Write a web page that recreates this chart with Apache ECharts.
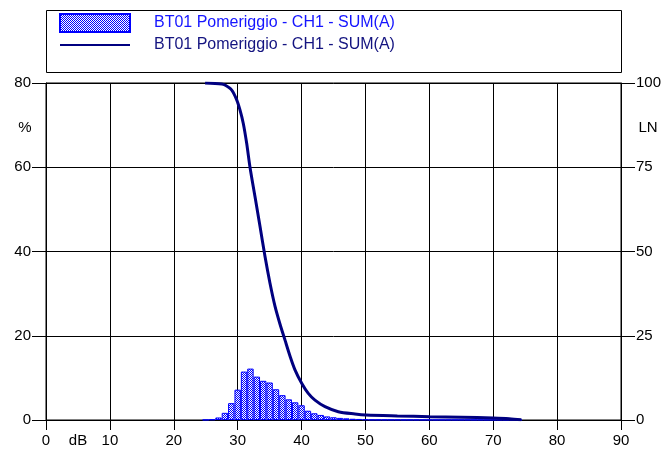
<!DOCTYPE html>
<html>
<head>
<meta charset="utf-8">
<script src="https://cdn.jsdelivr.net/npm/echarts@6/dist/echarts.min.js"></script>
<style>
html,body{margin:0;padding:0;background:#fff;}
#c{width:665px;height:461px;}
</style>
</head>
<body>
<div id="c"></div>
<script>
// ---- data ----
const seriesName = 'BT01 Pomeriggio - CH1 - SUM(A)';
const xTicks = [0, 10, 20, 30, 40, 50, 60, 70, 80, 90];
const leftTicks = [0, 20, 40, 60, 80];
const rightTicks = [0, 25, 50, 75, 100];
// histogram: dB bin centres and percentages
const histDb = [25,26,27,28,29,30,31,32,33,34,35,36,37,38,39,40,41,42,43,44,45,46,47,48,49,50,
                51,52,53,54,55,56,57,58,59,60,61,62,63,64,65,66,67,68,69,70,71,72,73,74];
const histPct = [0.05,0.15,0.6,1.7,4.0,7.2,11.5,12.2,10.3,9.3,8.9,7.3,5.9,4.9,4.2,3.5,2.2,1.6,1.2,0.85,0.65,0.5,0.4,0.3,0.25,0.15,
                 0.08,0.07,0.07,0.06,0.06,0.05,0.05,0.05,0.05,0.05,0.04,0.04,0.04,0.04,0.04,0.04,0.04,0.04,0.04,0.04,0.05,0.05,0.05,0.05];
// cumulative LN curve
const lnDb = [24.9, 27.5, 28.0, 29.07, 29.85, 30.36, 30.88, 31.41, 31.93, 32.71, 33.5, 34.28, 35.06, 35.84, 36.62, 37.41, 38.19, 38.97, 40.02, 41.05, 42.1, 43.67, 45.75, 48.36, 50.1, 55, 60.1, 65, 70, 72.5, 74.4];
const lnVal = [100, 99.7, 99.4, 97.9, 95.0, 92.0, 88.0, 82.1, 75.0, 66.3, 57.4, 48.5, 40.6, 33.8, 28.5, 23.7, 19.0, 14.9, 10.9, 7.9, 5.9, 3.95, 2.46, 1.78, 1.48, 1.2, 0.98, 0.8, 0.6, 0.4, 0.05];

// ---- chart ----
const pc = document.createElement('canvas');
pc.width = 2; pc.height = 2;
const pctx = pc.getContext('2d');
pctx.fillStyle = '#ffffff'; pctx.fillRect(0,0,2,2);
pctx.fillStyle = '#0000ff'; pctx.fillRect(0,0,1,1); pctx.fillRect(1,1,1,1);
const pattern = {image: pc, repeat: 'repeat'};

const chart = echarts.init(document.getElementById('c'), null, {renderer: 'canvas'});
const font = 'Liberation Sans, Arial, sans-serif';
const barData = histDb.map((d, i) => [d, histPct[i]]);
const lineData = lnDb.map((d, i) => [d, lnVal[i]]);

chart.setOption({
  animation: false,
  backgroundColor: '#fff',
  textStyle: {fontFamily: font},
  grid: {left: 46, right: 44, top: 83, bottom: 41, show: true, borderColor: '#000', borderWidth: 1, containLabel: false},
  legend: {
    orient: 'vertical', left: 59, top: 13, padding: 0, itemWidth: 70, itemHeight: 18, itemGap: 4,
    textStyle: {fontFamily: font, fontSize: 16, padding: [0, 0, 0, 19]},
    data: [
      {name: seriesName + ' ', icon: 'rect', textStyle: {color: '#1515ff'}},
      {name: seriesName, itemStyle: {opacity: 0}, textStyle: {color: '#141480'}}
    ],
    selectedMode: false
  },
  xAxis: {
    type: 'value', min: xTicks[0], max: xTicks[xTicks.length-1], interval: 10,
    axisLine: {lineStyle: {color: '#000', width: 1}},
    axisTick: {show: true, length: 10, lineStyle: {color: '#000'}},
    axisLabel: {color: '#000', fontSize: 15, fontFamily: font, margin: 13},
    splitLine: {show: true, lineStyle: {color: '#000', width: 1}}
  },
  yAxis: [
    {
      type: 'value', min: leftTicks[0], max: leftTicks[leftTicks.length-1], interval: 20, position: 'left',
      axisLine: {show: true, lineStyle: {color: '#000'}},
      axisTick: {show: true, length: 14, lineStyle: {color: '#000'}},
      axisLabel: {color: '#000', fontSize: 15, fontFamily: font, margin: 15},
      splitLine: {show: true, lineStyle: {color: '#000', width: 1}}
    },
    {
      type: 'value', min: rightTicks[0], max: rightTicks[rightTicks.length-1], interval: 25, position: 'right',
      axisLine: {show: true, lineStyle: {color: '#000'}},
      axisTick: {show: true, length: 14, lineStyle: {color: '#000'}},
      axisLabel: {color: '#000', fontSize: 15, fontFamily: font, margin: 15},
      splitLine: {show: false}
    }
  ],
  graphic: [
    {type: 'rect', shape: {x: 46.5, y: 10.5, width: 575, height: 62}, style: {fill: 'none', stroke: '#000', lineWidth: 1}, z: -1},
    {type: 'text', x: 25, y: 128, style: {text: '%', fontSize: 15, fontFamily: font, fill: '#000', textAlign: 'center', textVerticalAlign: 'middle'}},
    {type: 'text', x: 648, y: 128, style: {text: 'LN', fontSize: 15, fontFamily: font, fill: '#000', textAlign: 'center', textVerticalAlign: 'middle'}},
    {type: 'text', x: 78, y: 441, style: {text: 'dB', fontSize: 15, fontFamily: font, fill: '#000', textAlign: 'center', textVerticalAlign: 'middle'}}
  ],
  series: [
    {
      name: seriesName + ' ', type: 'bar', xAxisIndex: 0, yAxisIndex: 0,
      barWidth: 6.4, barGap: '-100%',
      itemStyle: {color: pattern, borderColor: '#0000ff', borderWidth: 1},
      data: barData, z: 3
    },
    {
      name: seriesName, type: 'line', xAxisIndex: 0, yAxisIndex: 1,
      showSymbol: false, symbol: 'none', smooth: 0.3,
      lineStyle: {color: '#000080', width: 3},
      itemStyle: {color: '#000080'},
      data: lineData, z: 4
    }
  ]
});
</script>
</body>
</html>
